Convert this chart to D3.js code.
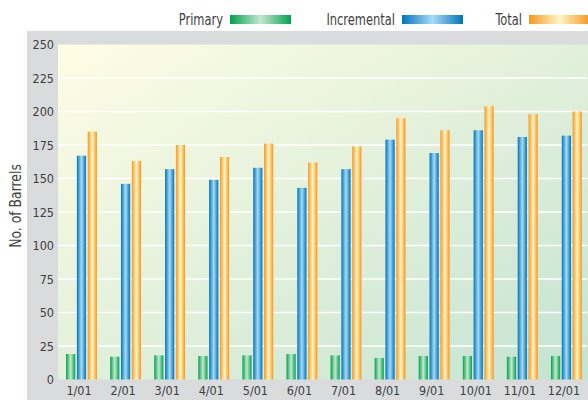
<!DOCTYPE html>
<html>
<head>
<meta charset="utf-8">
<script src="https://cdn.jsdelivr.net/npm/d3@7"></script>
<style>
  body { margin: 0; background: #fff; }
  text { font-family: "Liberation Sans Narrow", "DejaVu Sans Condensed", sans-serif; fill: #404040; }
</style>
</head>
<body>
<div id="chart"></div>
<script>
var months = ["1/01", "2/01", "3/01", "4/01", "5/01", "6/01", "7/01", "8/01", "9/01", "10/01", "11/01", "12/01"];
var primary = [19, 17, 18, 17.5, 18, 19, 18, 16, 17.5, 17.5, 17, 17.5];
var incremental = [167, 146, 157, 149, 158, 143, 157, 179, 169, 186, 181, 182];
var total = [185, 163, 175, 166, 176, 162, 174, 195, 186, 204, 198, 200];
var seriesNames = ["Primary", "Incremental", "Total"];
var yTicks = [0, 25, 50, 75, 100, 125, 150, 175, 200, 225, 250];

var svgWidth = 588;
var svgHeight = 400;

var margin = {
  top: 44.5,
  right: 0,
  bottom: 20.5,
  left: 59
};

var width = svgWidth - margin.left - margin.right;
var height = svgHeight - margin.top - margin.bottom;

var svg = d3.select("#chart")
  .append("svg")
  .attr("width", svgWidth)
  .attr("height", svgHeight);

var defs = svg.append("defs");

var bg = defs.append("linearGradient")
  .attr("id", "bgGrad")
  .attr("x1", 0).attr("y1", 0).attr("x2", 1).attr("y2", 1);
bg.append("stop").attr("offset", "0%").attr("stop-color", "#fffde4");
bg.append("stop").attr("offset", "100%").attr("stop-color", "#c4e3d2");

// dark edge, light middle, dark edge
var barColors = {
  Primary: ["#00a24e", "#c6e8cf", "#00a24e"],
  Incremental: ["#0073bd", "#a6dcf6", "#0073bd"],
  Total: ["#f7961f", "#fff6c4", "#f7961f"]
};

seriesNames.forEach(function(name) {
  var g = defs.append("linearGradient")
    .attr("id", "grad" + name)
    .attr("x1", 0).attr("y1", 0).attr("x2", 1).attr("y2", 0);
  g.append("stop").attr("offset", "0%").attr("stop-color", barColors[name][0]);
  g.append("stop").attr("offset", "50%").attr("stop-color", barColors[name][1]);
  g.append("stop").attr("offset", "100%").attr("stop-color", barColors[name][2]);
});

// gray panel
svg.append("rect")
  .attr("x", 27)
  .attr("y", 31)
  .attr("width", svgWidth - 27)
  .attr("height", svgHeight - 31)
  .attr("fill", "#dadbdd");

var chartGroup = svg.append("g")
  .attr("transform", `translate(${margin.left}, ${margin.top})`);

chartGroup.append("rect")
  .attr("x", -1)
  .attr("y", 0)
  .attr("width", width + 1)
  .attr("height", height)
  .attr("fill", "url(#bgGrad)");

var x0 = d3.scaleBand()
  .domain(months)
  .range([0, width]);

var x1 = d3.scaleBand()
  .domain(seriesNames)
  .range([x0.bandwidth() * 0.16, x0.bandwidth() * 0.86])
  .paddingInner(0.15);

var yLinearScale = d3.scaleLinear()
  .domain([0, 250])
  .range([height, 0]);

// grid
chartGroup.selectAll(".grid")
  .data(yTicks.filter(d => d > 0 && d < 250))
  .enter()
  .append("line")
  .attr("x1", -1)
  .attr("x2", width - 1)
  .attr("y1", d => yLinearScale(d))
  .attr("y2", d => yLinearScale(d))
  .attr("stroke", "#fff")
  .attr("stroke-width", 1.6);

var leftAxis = d3.axisLeft(yLinearScale)
  .tickValues(yTicks)
  .tickSize(0)
  .tickPadding(5);

var yAxis = chartGroup.append("g").call(leftAxis);
yAxis.select(".domain").remove();
yAxis.selectAll("text")
  .attr("font-size", "12.5px")
  .attr("fill", "#404040")
  .style("font-family", "'Liberation Sans Narrow', 'DejaVu Sans Condensed', sans-serif");

var bottomAxis = d3.axisBottom(x0)
  .tickSize(0)
  .tickPadding(7);

var xAxis = chartGroup.append("g")
  .attr("transform", `translate(-2, ${height})`)
  .call(bottomAxis);
xAxis.select(".domain").remove();
xAxis.selectAll("text")
  .attr("font-size", "12.5px")
  .attr("fill", "#404040")
  .style("font-family", "'Liberation Sans Narrow', 'DejaVu Sans Condensed', sans-serif");

var data = months.map(function(m, i) {
  return { month: m, Primary: primary[i], Incremental: incremental[i], Total: total[i] };
});

var groups = chartGroup.selectAll(".month")
  .data(data)
  .enter()
  .append("g")
  .attr("transform", d => `translate(${x0(d.month)}, 0)`);

groups.selectAll("rect")
  .data(d => seriesNames.map(k => ({ key: k, value: d[k] })))
  .enter()
  .append("rect")
  .attr("x", d => x1(d.key))
  .attr("y", d => yLinearScale(d.value))
  .attr("width", x1.bandwidth())
  .attr("height", d => height - yLinearScale(d.value))
  .attr("fill", d => "url(#grad" + d.key + ")");

// axis title
svg.append("g")
  .attr("transform", "translate(20.5, 206) rotate(-90) scale(0.92, 1)")
  .append("text")
  .attr("text-anchor", "middle")
  .attr("font-size", "15px")
  .text("No. of Barrels");

// legend
var legendX = [230, 402, 529];
var legend = svg.selectAll(".legend")
  .data(seriesNames)
  .enter()
  .append("g")
  .attr("transform", (d, i) => `translate(${legendX[i]}, 15)`);

legend.append("rect")
  .attr("width", 61)
  .attr("height", 9)
  .attr("fill", d => "url(#grad" + d + ")");

legend.append("g")
  .attr("transform", "translate(-7, 10) scale(0.85, 1)")
  .append("text")
  .attr("text-anchor", "end")
  .attr("font-size", "15px")
  .text(d => d);
</script>
</body>
</html>
